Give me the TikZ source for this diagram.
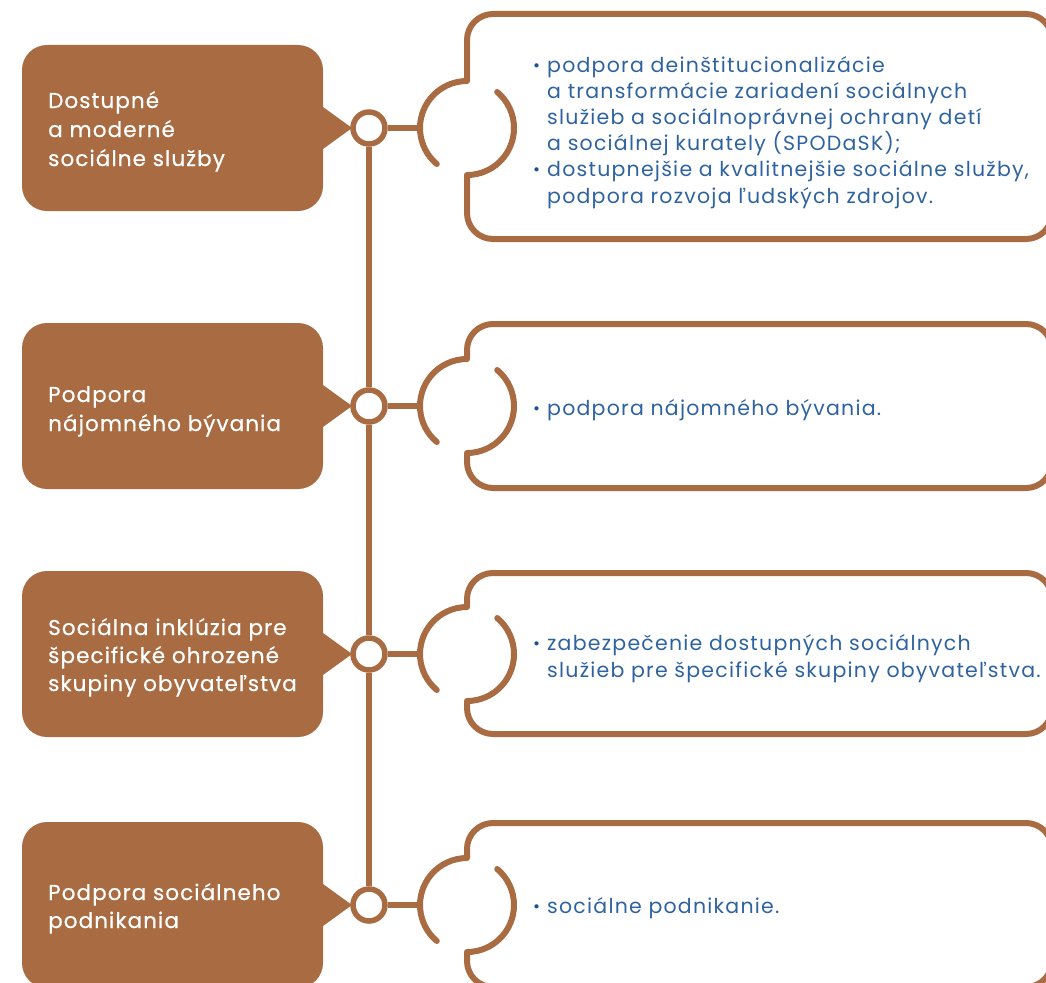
\documentclass[tikz,border=0pt]{standalone}
\usepackage{fontspec}
\setmainfont{Poppins}
\newfontfamily\labfont[LetterSpace=5,FakeBold=0.6]{Poppins}
\newfontfamily\itfont[LetterSpace=6]{Poppins}
\definecolor{rust}{HTML}{A86B42}
\definecolor{txtblue}{HTML}{2F63A0}
\definecolor{dotblue}{HTML}{1D4F91}
\newcommand{\bul}{\llap{{\color{dotblue}\fontsize{17}{17}\selectfont\raisebox{1pt}{•}}\hskip 7pt}}
\tikzset{
  tile/.style={fill=rust, rounded corners=25pt, minimum width=301pt, minimum height=166pt, inner sep=0pt},
  label/.style={anchor=base west, inner sep=0pt, text=white, font=\labfont\fontsize{21.5}{29}\selectfont},
  item/.style={anchor=base west, inner sep=0pt, text=txtblue, font=\itfont\fontsize{20.5}{26}\selectfont},
  hub/.style={circle, draw=rust, line width=5.5pt, fill=white, minimum size=32pt, inner sep=0pt},
  wire/.style={draw=rust, line width=5.5pt},
  frame/.style={draw=rust, line width=6pt, line cap=round, line join=round}
}
\newcommand{\puzzle}[3]{% center y, top, bottom
  \draw[frame] (467,#1) ++(130:47) arc[start angle=130, end angle=270, radius=47]
    -- (467,#2+26) arc[start angle=180, end angle=270, radius=26]
    -- (1026,#2) arc[start angle=270, end angle=360, radius=26]
    -- (1052,#3-26) arc[start angle=0, end angle=90, radius=26]
    -- (493,#3) arc[start angle=90, end angle=180, radius=26]
    -- (467,#1+47) arc[start angle=90, end angle=-50, radius=47];
}
\begin{document}
\begin{tikzpicture}[x=1pt,y=-1pt]
\useasboundingbox (0,0) rectangle (1046,982);
\clip (0,0) rectangle (1046,982);

% left tiles
\node[tile] (b1) at (172.5,128) {};
\node[tile] (b2) at (172.5,406) {};
\node[tile] (b3) at (172.5,654) {};
\node[tile] (b4) at (172.5,905) {};
\foreach \c in {128,406,654,905}{
  \fill[rust] (323,\c-21) -- (352,\c) -- (323,\c+21) -- cycle;
}

% hubs
\node[hub] (h1) at (369,128) {};
\node[hub] (h2) at (369,406) {};
\node[hub] (h3) at (369,654) {};
\node[hub] (h4) at (369,905) {};
\draw[wire] (h1.south) -- (h2.north);
\draw[wire] (h2.south) -- (h3.north);
\draw[wire] (h3.south) -- (h4.north);

% bracket points
\coordinate (k1) at (420,128);
\coordinate (k2) at (420,406);
\coordinate (k3) at (420,654);
\coordinate (k4) at (420,905);
\draw[wire] (h1.east) -- (k1);
\draw[wire] (h2.east) -- (k2);
\draw[wire] (h3.east) -- (k3);
\draw[wire] (h4.east) -- (k4);

% right frames
\puzzle{128}{14}{239}
\puzzle{406}{324}{488}
\puzzle{654}{573}{734}
\puzzle{905}{823}{987}

% labels
\node[label] (t1) at (48,108) {\vtop{\baselineskip=29pt\hbox{Dostupné}\hbox{a moderné}\hbox{sociálne služby}}};
\node[label] (t2) at (48,402) {\vtop{\baselineskip=29pt\hbox{Podpora}\hbox{nájomného bývania}}};
\node[label] (t3) at (48,635) {\vtop{\baselineskip=28pt\hbox{Sociálna inklúzia pre}\hbox{špecifické ohrozené}\hbox{skupiny obyvateľstva}}};
\node[label] (t4) at (48,900) {\vtop{\baselineskip=28pt\hbox{Podpora sociálneho}\hbox{podnikania}}};

% items
\node[item] (r1) at (547,72) {\vtop{\baselineskip=26.2pt
  \hbox{\bul podpora deinštitucionalizácie}
  \hbox{a transformácie zariadení sociálnych}
  \hbox{služieb a sociálnoprávnej ochrany detí}
  \hbox{a sociálnej kurately (SPODaSK);}
  \hbox{\bul dostupnejšie a kvalitnejšie sociálne služby,}
  \hbox{podpora rozvoja ľudských zdrojov.}}};
\node[item] (r2) at (547,415) {\vtop{\hbox{\bul podpora nájomného bývania.}}};
\node[item] (r3) at (547,650) {\vtop{\baselineskip=27pt
  \hbox{\bul zabezpečenie dostupných sociálnych}
  \hbox{služieb pre špecifické skupiny obyvateľstva.}}};
\node[item] (r4) at (547,913) {\vtop{\hbox{\bul sociálne podnikanie.}}};
\end{tikzpicture}
\end{document}
